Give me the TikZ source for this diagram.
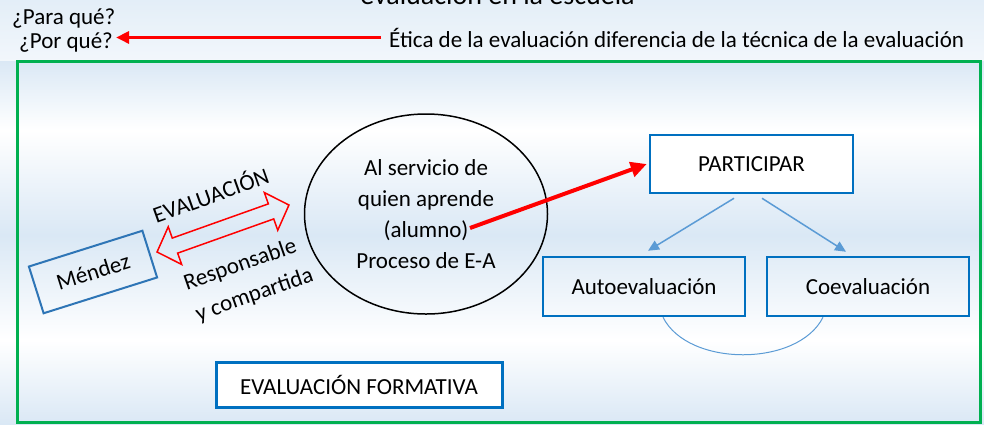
\documentclass[tikz,border=0pt]{standalone}
\usepackage{fontspec}
\setmainfont{Carlito}
\usetikzlibrary{arrows.meta,calc,shapes.geometric}
\definecolor{boxblue}{HTML}{0070C0}
\definecolor{mendblue}{HTML}{2E75B6}
\definecolor{arrblue}{HTML}{5B9BD5}
\definecolor{frgreen}{HTML}{00B050}
\definecolor{bgblue}{HTML}{DAE8F5}
\begin{document}
\begin{tikzpicture}[x=1pt,y=-1pt,
  every node/.style={font=\fontsize{23}{31}\selectfont, inner sep=0pt},
  bluebox/.style={draw=boxblue, line width=2.5pt, rectangle},
  redarrow/.style={draw=red, line width=3pt, -{Triangle[length=13pt,width=12pt]}},
  bigredarrow/.style={draw=red, line width=4pt, -{Triangle[length=16pt,width=15pt]}},
  bluearrow/.style={draw=arrblue, line width=1.5pt, -{Triangle[length=11pt,width=10pt]}},
  dblarrow/.style={draw=red, line width=1.5pt, line join=miter},
  rotlabel/.style={anchor=base},
]
\useasboundingbox (0,0) rectangle (984,424);
\clip (0,0) rectangle (984,424);
% background
\shade[top color=bgblue!75, bottom color=bgblue!35] (0,0) rectangle (984,61);
\shade[top color=bgblue, bottom color=white] (0,61) rectangle (984,130);
\shade[top color=white, bottom color=bgblue] (0,130) rectangle (984,235);
\shade[top color=bgblue, bottom color=white] (0,235) rectangle (984,340);
\shade[top color=white, bottom color=bgblue] (0,340) rectangle (984,424);

% frame
\node[draw=frgreen, line width=3pt, minimum width=963pt, minimum height=361pt] (frame) at (498.5,241.5) {};

% title and top texts
\node[anchor=base, font=\fontsize{28}{34}\selectfont] (title) at (497.5,4) {evaluación en la escuela};
\node[anchor=base west] (para) at (12,24) {¿Para qué?};
\node[anchor=base west] (por) at (19,48) {¿Por qué?};
\node[anchor=base west] (etica) at (389,47) {Ética de la evaluación diferencia de la técnica de la evaluación};
\draw[redarrow] ([xshift=-8pt]etica.west) -- ($(por.east |- etica.west)+(3,0)$);

% left part
\node[draw=mendblue, line width=2pt, rotate=17.5, minimum width=119pt, minimum height=49pt] (mendez) at (93,272) {Méndez};
\coordinate (dbl) at (223,228.5);
\begin{scope}[shift={(dbl)}, rotate=19.6]
  \draw[dblarrow] (-70,0) -- (-51,-20) -- (-51,-8) -- (51,-8) -- (51,-20) -- (70,0)
    -- (51,20) -- (51,8) -- (-51,8) -- (-51,20) -- cycle;
\end{scope}
\node[rotlabel, rotate=19.6] (evallab) at (213.5,203) {EVALUACIÓN};
\node[rotlabel, rotate=19.2] (resp) at (242.5,271) {Responsable};
\node[rotlabel, rotate=19.2] (ycomp) at (256.5,301) {y compartida};

% ellipse
\node[draw, ellipse, line width=1.5pt, minimum width=243pt, minimum height=200pt, align=center] (ell) at (426,214)
  {Al servicio de\\quien aprende\\(alumno)\\Proceso de E-A};

% right part
\node[bluebox, fill=white, minimum width=203pt, minimum height=58pt] (part) at (751.5,164) {PARTICIPAR};
\node[bluebox, minimum width=202pt, minimum height=59pt] (auto) at (644,286.5) {Autoevaluación};
\node[bluebox, minimum width=202pt, minimum height=59pt] (coev) at (868,286.5) {Coevaluación};

\coordinate (redstart) at (470,228);
\draw[bigredarrow] (redstart) -- ([xshift=-2pt]part.west);

\draw[bluearrow] ($(part.south)+(-17.5,4)$) -- ($(auto.north)+(4,-5)$);
\draw[bluearrow] ($(part.south)+(10.5,4)$) -- ($(coev.north)+(-22,-4)$);
\draw[arrblue, line width=1pt] ($(auto.south)+(19,0)$) .. controls +(25,50) and +(-25,50) .. ($(coev.south)+(-45,0)$);

% bottom box
\node[bluebox, line width=3pt, fill=white, minimum width=286pt, minimum height=45pt] (form) at (359,385) {EVALUACIÓN FORMATIVA};
\end{tikzpicture}
\end{document}
